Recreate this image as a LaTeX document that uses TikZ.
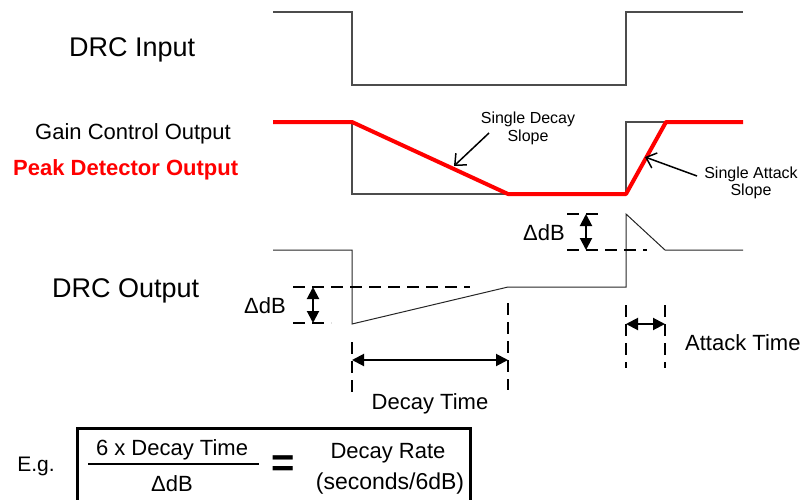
\documentclass[tikz,border=0pt]{standalone}
\usepackage{fontspec}
\setmainfont{Liberation Sans}
\usetikzlibrary{arrows.meta}
\definecolor{sig}{gray}{0.3}
\definecolor{pdred}{RGB}{255,0,0}
\begin{document}
\begin{tikzpicture}[x=1pt,y=-1pt,
  sigline/.style={draw=sig,line width=1.3pt},
  outline/.style={draw=black!85,line width=1pt},
  redline/.style={draw=pdred,line width=4pt,line join=round},
  dashln/.style={draw=black,line width=2pt,dash pattern=on 12pt off 7pt},
  dimarrow/.style={line width=2pt,{Triangle[length=12pt,width=12pt]}-{Triangle[length=12pt,width=12pt]}},
  callout/.style={line width=1.5pt,-{Straight Barb[length=9pt,width=16pt]}},
  big/.style={font=\fontsize{27}{30}\selectfont},
  mid/.style={font=\fontsize{22}{24}\selectfont},
  small/.style={font=\fontsize{16}{18}\selectfont},
  inner sep=0pt]
\useasboundingbox (0,0) rectangle (804,499);

% labels
\node[big,anchor=base west] (lin) at (69,56) {DRC Input};
\node[mid,anchor=base west] (lgain) at (35,139) {Gain Control Output};
\node[font=\fontsize{22}{24}\selectfont\bfseries,text=pdred,anchor=base west] (lpeak) at (13,175) {Peak Detector Output};
\node[big,anchor=base west] (lout) at (52,297) {DRC Output};

% signals
\draw[sigline] (273,12) -- (352,12) -- (352,85) -- (626,85) -- (626,12) -- (743,12);
\draw[sigline] (273,122) -- (352,122) -- (352,194) -- (626,194) -- (626,122) -- (743,122);
\draw[redline] (273,122) -- (352,122) -- (508,194) -- (626,194) -- (666,122) -- (743,122);
\draw[outline] (273,250) -- (352,250) -- (352,324) -- (508,287) -- (626,287) -- (626,214) -- (665,250) -- (743,250);

% callouts
\node[small,anchor=base] (sd1) at (528,123) {Single Decay};
\node[small,anchor=base] (sd2) at (528,141) {Slope};
\coordinate (sdfrom) at (489,133);
\coordinate (sdto) at (454,166);
\draw[callout] (sdfrom) -- (sdto);
\node[small,anchor=base] (sa1) at (751,178) {Single Attack};
\node[small,anchor=base] (sa2) at (751,195) {Slope};
\coordinate (safrom) at (697,176);
\coordinate (sato) at (645,157);
\draw[callout] (safrom) -- (sato);

% left delta dB
\coordinate (ld1a) at (293,287); \coordinate (ld1b) at (470,287);
\coordinate (ld2a) at (293,323); \coordinate (ld2b) at (331,323);
\draw[dashln] (ld1a) -- (ld1b);
\draw[dashln] (ld2a) -- (ld2b);
\coordinate (lda) at (313,287); \coordinate (ldb) at (313,323);
\draw[dimarrow] (lda) -- (ldb);
\node[mid,anchor=base] (ldtext) at (265,313) {ΔdB};

% right delta dB
\coordinate (rd1a) at (567,214); \coordinate (rd1b) at (605,214);
\coordinate (rd2a) at (567,250); \coordinate (rd2b) at (647,250);
\draw[dashln] (rd1a) -- (rd1b);
\draw[dashln] (rd2a) -- (rd2b);
\coordinate (rda) at (586,214); \coordinate (rdb) at (586,250);
\draw[dimarrow] (rda) -- (rdb);
\node[mid,anchor=base] (rdtext) at (544,240) {ΔdB};

% decay time
\coordinate (dt1a) at (352,342); \coordinate (dt1b) at (352,398);
\coordinate (dt2a) at (508,303); \coordinate (dt2b) at (508,390);
\draw[dashln] (dt1a) -- (dt1b);
\draw[dashln] (dt2a) -- (dt2b);
\coordinate (dta) at (352,360); \coordinate (dtb) at (508,360);
\draw[dimarrow] (dta) -- (dtb);
\node[mid,anchor=base] (dttext) at (430,409) {Decay Time};

% attack time
\coordinate (at1a) at (626,305); \coordinate (at1b) at (626,368);
\coordinate (at2a) at (665,305); \coordinate (at2b) at (665,368);
\draw[dashln] (at1a) -- (at1b);
\draw[dashln] (at2a) -- (at2b);
\coordinate (ata) at (626,324); \coordinate (atb) at (665,324);
\draw[dimarrow] (ata) -- (atb);
\node[mid,anchor=base west] (attext) at (685,350) {Attack Time};

% formula
\node[mid,font=\fontsize{21}{24}\selectfont,anchor=base] (eg) at (36,471) {E.g.};
\draw[line width=3pt] (77,510) -- (77,428) -- (470,428) -- (470,510);
\node[mid,anchor=base] (num) at (172,455) {6 x Decay Time};
\draw[line width=2.5pt] (88,464) -- (259,464);
\node[mid,anchor=base] (den) at (172,491) {ΔdB};
\node[font=\fontsize{40}{40}\selectfont\bfseries] (eq) at (283,466) {=};
\node[mid,anchor=base] (rate1) at (388,458) {Decay Rate};
\node[font=\fontsize{23}{24}\selectfont,anchor=base] (rate2) at (390,489) {(seconds/6dB)};
\end{tikzpicture}
\end{document}
